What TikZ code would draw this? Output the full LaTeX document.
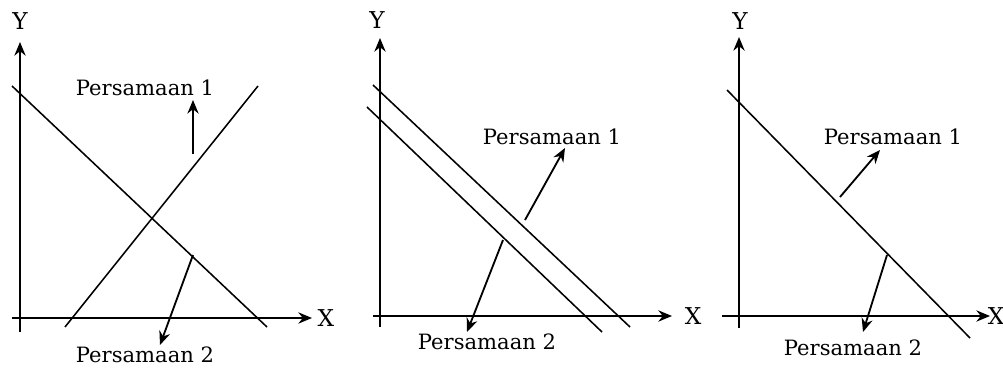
\documentclass[tikz,border=0pt]{standalone}
\usepackage{fontspec}
\setmainfont{DejaVu Serif}
\usetikzlibrary{arrows.meta}

\begin{document}
\begin{tikzpicture}[x=0.025cm,y=-0.025cm,
    axis/.style={line width=1.5pt,-{Stealth[length=3.4mm,width=2.8mm]}},
    graph/.style={line width=1.1pt},
    pointer/.style={line width=1.3pt,-{Stealth[length=3.4mm,width=2.8mm]}},
    lbl/.style={font=\fontsize{15}{17}\selectfont, inner sep=1pt},
    axlbl/.style={font=\fontsize{16.5}{18}\selectfont, inner sep=1pt}]
    \useasboundingbox (0,0) rectangle (1003,368);

    % panel 1: two lines crossing
    \coordinate (y1b) at (20,332); \coordinate (y1t) at (20,42);
    \coordinate (x1l) at (12,318); \coordinate (x1r) at (312,318);
    \draw[axis] (y1b) -- (y1t);
    \draw[axis] (x1l) -- (x1r);
    \node[axlbl] (Y1) at (20,21) {Y};
    \node[axlbl] (X1) at (326,318) {X};
    \coordinate (a1) at (12,86); \coordinate (a2) at (267,327);
    \coordinate (b1) at (65,327); \coordinate (b2) at (258,86);
    \draw[graph] (a1) -- (a2);
    \draw[graph] (b1) -- (b2);
    \node[lbl] (p11) at (145,88) {Persamaan 1};
    \node[lbl] (p12) at (145,355) {Persamaan 2};
    \coordinate (s11) at (193,154); \coordinate (e11) at (193,100);
    \coordinate (s12) at (193,255); \coordinate (e12) at (160,345);
    \draw[pointer] (s11) -- (e11);
    \draw[pointer] (s12) -- (e12);

    % panel 2: two parallel lines
    \coordinate (y2b) at (380,327); \coordinate (y2t) at (380,38);
    \coordinate (x2l) at (373,316); \coordinate (x2r) at (672,316);
    \draw[axis] (y2b) -- (y2t);
    \draw[axis] (x2l) -- (x2r);
    \node[axlbl] (Y2) at (377,20) {Y};
    \node[axlbl] (X2) at (693,316) {X};
    \coordinate (c1) at (373,85); \coordinate (c2) at (630,327);
    \coordinate (d1) at (367,107); \coordinate (d2) at (602,332);
    \draw[graph] (c1) -- (c2);
    \draw[graph] (d1) -- (d2);
    \node[lbl] (p21) at (552,137) {Persamaan 1};
    \node[lbl] (p22) at (487,342) {Persamaan 2};
    \coordinate (s21) at (525,220); \coordinate (e21) at (565,148);
    \coordinate (s22) at (503,240); \coordinate (e22) at (467,332);
    \draw[pointer] (s21) -- (e21);
    \draw[pointer] (s22) -- (e22);

    % panel 3: one line
    \coordinate (y3b) at (739,328); \coordinate (y3t) at (739,37);
    \coordinate (x3l) at (722,316); \coordinate (x3r) at (990,316);
    \draw[axis] (y3b) -- (y3t);
    \draw[axis] (x3l) -- (x3r);
    \node[axlbl] (Y3) at (740,21) {Y};
    \node[axlbl] (X3) at (996,316) {X};
    \coordinate (f1) at (727,90); \coordinate (f2) at (970,338);
    \draw[graph] (f1) -- (f2);
    \node[lbl] (p31) at (893,137) {Persamaan 1};
    \node[lbl] (p32) at (853,348) {Persamaan 2};
    \coordinate (s31) at (840,197); \coordinate (e31) at (880,150);
    \coordinate (s32) at (887,255); \coordinate (e32) at (863,332);
    \draw[pointer] (s31) -- (e31);
    \draw[pointer] (s32) -- (e32);
\end{tikzpicture}
\end{document}
